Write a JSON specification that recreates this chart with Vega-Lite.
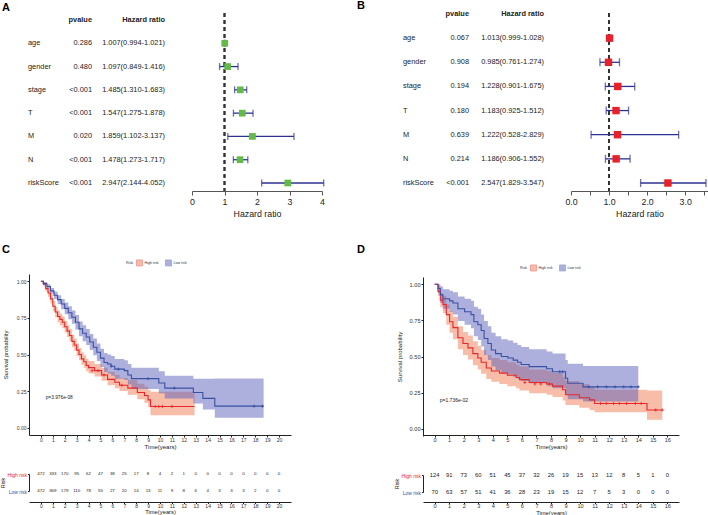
{
  "$schema": "https://vega.github.io/schema/vega-lite/v6.json",
  "background": "white",
  "padding": 0,
  "autosize": {"type": "pad"},
  "columns": 2,
  "align": "each",
  "bounds": "flush",
  "spacing": {"row": 29, "column": 101},
  "resolve": {"scale": {"fill": "independent", "color": "independent"}, "legend": {"fill": "independent", "color": "independent"}},
  "config": {
    "font": "Liberation Sans",
    "view": {"stroke": null},
    "axis": {"grid": false, "labelFlush": false, "labelOverlap": false, "labelBound": false, "titleFontWeight": "normal"},
    "title": {"fontSize": 11, "fontWeight": "bold", "color": "#000", "anchor": "start", "frame": "group"}
  },
  "datasets": {
    "forestA": [
      {"var": "age", "p": "0.286", "hr": 1.007, "lo": 0.994, "hi": 1.021, "hrtxt": "1.007(0.994-1.021)"},
      {"var": "gender", "p": "0.480", "hr": 1.097, "lo": 0.849, "hi": 1.416, "hrtxt": "1.097(0.849-1.416)"},
      {"var": "stage", "p": "<0.001", "hr": 1.485, "lo": 1.31, "hi": 1.683, "hrtxt": "1.485(1.310-1.683)"},
      {"var": "T", "p": "<0.001", "hr": 1.547, "lo": 1.275, "hi": 1.878, "hrtxt": "1.547(1.275-1.878)"},
      {"var": "M", "p": "0.020", "hr": 1.859, "lo": 1.102, "hi": 3.137, "hrtxt": "1.859(1.102-3.137)"},
      {"var": "N", "p": "<0.001", "hr": 1.478, "lo": 1.273, "hi": 1.717, "hrtxt": "1.478(1.273-1.717)"},
      {"var": "riskScore", "p": "<0.001", "hr": 2.947, "lo": 2.144, "hi": 4.052, "hrtxt": "2.947(2.144-4.052)"}
    ],
    "forestB": [
      {"var": "age", "p": "0.067", "hr": 1.013, "lo": 0.999, "hi": 1.028, "hrtxt": "1.013(0.999-1.028)"},
      {"var": "gender", "p": "0.908", "hr": 0.985, "lo": 0.761, "hi": 1.274, "hrtxt": "0.985(0.761-1.274)"},
      {"var": "stage", "p": "0.194", "hr": 1.228, "lo": 0.901, "hi": 1.675, "hrtxt": "1.228(0.901-1.675)"},
      {"var": "T", "p": "0.180", "hr": 1.183, "lo": 0.925, "hi": 1.512, "hrtxt": "1.183(0.925-1.512)"},
      {"var": "M", "p": "0.639", "hr": 1.222, "lo": 0.528, "hi": 2.829, "hrtxt": "1.222(0.528-2.829)"},
      {"var": "N", "p": "0.214", "hr": 1.186, "lo": 0.906, "hi": 1.552, "hrtxt": "1.186(0.906-1.552)"},
      {"var": "riskScore", "p": "<0.001", "hr": 2.547, "lo": 1.829, "hi": 3.547, "hrtxt": "2.547(1.829-3.547)"}
    ],
    "kmC": [
      {"g": "High risk", "t": 0, "s": 1, "lo": 1, "hi": 1},
      {"g": "High risk", "t": 0.2, "s": 0.98, "lo": 0.965, "hi": 0.995},
      {"g": "High risk", "t": 0.4, "s": 0.95, "lo": 0.93, "hi": 0.97},
      {"g": "High risk", "t": 0.6, "s": 0.92, "lo": 0.895, "hi": 0.945},
      {"g": "High risk", "t": 0.8, "s": 0.88, "lo": 0.85, "hi": 0.91},
      {"g": "High risk", "t": 1.0, "s": 0.83, "lo": 0.795, "hi": 0.865},
      {"g": "High risk", "t": 1.2, "s": 0.79, "lo": 0.755, "hi": 0.825},
      {"g": "High risk", "t": 1.4, "s": 0.76, "lo": 0.72, "hi": 0.8},
      {"g": "High risk", "t": 1.6, "s": 0.74, "lo": 0.7, "hi": 0.78},
      {"g": "High risk", "t": 1.8, "s": 0.72, "lo": 0.68, "hi": 0.76},
      {"g": "High risk", "t": 2.0, "s": 0.69, "lo": 0.65, "hi": 0.73},
      {"g": "High risk", "t": 2.2, "s": 0.66, "lo": 0.62, "hi": 0.7},
      {"g": "High risk", "t": 2.4, "s": 0.63, "lo": 0.59, "hi": 0.675},
      {"g": "High risk", "t": 2.6, "s": 0.59, "lo": 0.55, "hi": 0.635},
      {"g": "High risk", "t": 2.8, "s": 0.565, "lo": 0.525, "hi": 0.61},
      {"g": "High risk", "t": 3.0, "s": 0.53, "lo": 0.49, "hi": 0.575},
      {"g": "High risk", "t": 3.2, "s": 0.5, "lo": 0.46, "hi": 0.545},
      {"g": "High risk", "t": 3.4, "s": 0.47, "lo": 0.43, "hi": 0.515},
      {"g": "High risk", "t": 3.6, "s": 0.45, "lo": 0.41, "hi": 0.495},
      {"g": "High risk", "t": 3.8, "s": 0.425, "lo": 0.385, "hi": 0.47},
      {"g": "High risk", "t": 4.0, "s": 0.41, "lo": 0.37, "hi": 0.455},
      {"g": "High risk", "t": 4.5, "s": 0.39, "lo": 0.35, "hi": 0.435},
      {"g": "High risk", "t": 5.1, "s": 0.36, "lo": 0.32, "hi": 0.41},
      {"g": "High risk", "t": 5.6, "s": 0.33, "lo": 0.29, "hi": 0.38},
      {"g": "High risk", "t": 6.2, "s": 0.31, "lo": 0.27, "hi": 0.36},
      {"g": "High risk", "t": 6.6, "s": 0.29, "lo": 0.25, "hi": 0.34},
      {"g": "High risk", "t": 7.3, "s": 0.27, "lo": 0.225, "hi": 0.325},
      {"g": "High risk", "t": 8.1, "s": 0.24, "lo": 0.195, "hi": 0.3},
      {"g": "High risk", "t": 8.7, "s": 0.22, "lo": 0.17, "hi": 0.28},
      {"g": "High risk", "t": 9.0, "s": 0.19, "lo": 0.14, "hi": 0.26},
      {"g": "High risk", "t": 9.2, "s": 0.145, "lo": 0.085, "hi": 0.245},
      {"g": "High risk", "t": 12.9, "s": 0.145, "lo": 0.085, "hi": 0.245},
      {"g": "Low risk", "t": 0, "s": 1, "lo": 1, "hi": 1},
      {"g": "Low risk", "t": 0.2, "s": 0.985, "lo": 0.975, "hi": 0.995},
      {"g": "Low risk", "t": 0.5, "s": 0.965, "lo": 0.95, "hi": 0.98},
      {"g": "Low risk", "t": 0.8, "s": 0.935, "lo": 0.915, "hi": 0.955},
      {"g": "Low risk", "t": 1.1, "s": 0.905, "lo": 0.88, "hi": 0.93},
      {"g": "Low risk", "t": 1.4, "s": 0.875, "lo": 0.845, "hi": 0.905},
      {"g": "Low risk", "t": 1.7, "s": 0.845, "lo": 0.81, "hi": 0.88},
      {"g": "Low risk", "t": 2.0, "s": 0.815, "lo": 0.775, "hi": 0.855},
      {"g": "Low risk", "t": 2.3, "s": 0.785, "lo": 0.74, "hi": 0.83},
      {"g": "Low risk", "t": 2.6, "s": 0.755, "lo": 0.71, "hi": 0.8},
      {"g": "Low risk", "t": 2.9, "s": 0.72, "lo": 0.67, "hi": 0.77},
      {"g": "Low risk", "t": 3.2, "s": 0.675, "lo": 0.625, "hi": 0.725},
      {"g": "Low risk", "t": 3.5, "s": 0.645, "lo": 0.59, "hi": 0.7},
      {"g": "Low risk", "t": 3.8, "s": 0.62, "lo": 0.565, "hi": 0.675},
      {"g": "Low risk", "t": 4.1, "s": 0.585, "lo": 0.53, "hi": 0.64},
      {"g": "Low risk", "t": 4.4, "s": 0.55, "lo": 0.495, "hi": 0.61},
      {"g": "Low risk", "t": 4.7, "s": 0.515, "lo": 0.455, "hi": 0.575},
      {"g": "Low risk", "t": 5.0, "s": 0.475, "lo": 0.415, "hi": 0.54},
      {"g": "Low risk", "t": 5.3, "s": 0.445, "lo": 0.38, "hi": 0.51},
      {"g": "Low risk", "t": 5.6, "s": 0.435, "lo": 0.37, "hi": 0.5},
      {"g": "Low risk", "t": 5.9, "s": 0.42, "lo": 0.355, "hi": 0.49},
      {"g": "Low risk", "t": 6.2, "s": 0.4, "lo": 0.335, "hi": 0.47},
      {"g": "Low risk", "t": 7.0, "s": 0.39, "lo": 0.325, "hi": 0.46},
      {"g": "Low risk", "t": 7.3, "s": 0.36, "lo": 0.295, "hi": 0.435},
      {"g": "Low risk", "t": 7.6, "s": 0.335, "lo": 0.265, "hi": 0.41},
      {"g": "Low risk", "t": 9.9, "s": 0.305, "lo": 0.235, "hi": 0.385},
      {"g": "Low risk", "t": 10.4, "s": 0.27, "lo": 0.2, "hi": 0.355},
      {"g": "Low risk", "t": 12.8, "s": 0.24, "lo": 0.165, "hi": 0.335},
      {"g": "Low risk", "t": 13.6, "s": 0.2, "lo": 0.125, "hi": 0.335},
      {"g": "Low risk", "t": 14.6, "s": 0.147, "lo": 0.068, "hi": 0.336},
      {"g": "Low risk", "t": 18.7, "s": 0.147, "lo": 0.068, "hi": 0.336}
    ],
    "kmD": [
      {"g": "High risk", "t": 0, "s": 1, "lo": 1, "hi": 1},
      {"g": "High risk", "t": 0.23, "s": 0.95, "lo": 0.92, "hi": 0.99},
      {"g": "High risk", "t": 0.39, "s": 0.89, "lo": 0.84, "hi": 0.94},
      {"g": "High risk", "t": 0.57, "s": 0.86, "lo": 0.8, "hi": 0.92},
      {"g": "High risk", "t": 0.8, "s": 0.79, "lo": 0.72, "hi": 0.86},
      {"g": "High risk", "t": 1.03, "s": 0.74, "lo": 0.665, "hi": 0.815},
      {"g": "High risk", "t": 1.26, "s": 0.7, "lo": 0.62, "hi": 0.775},
      {"g": "High risk", "t": 1.6, "s": 0.63, "lo": 0.55, "hi": 0.71},
      {"g": "High risk", "t": 1.95, "s": 0.59, "lo": 0.51, "hi": 0.67},
      {"g": "High risk", "t": 2.29, "s": 0.56, "lo": 0.48, "hi": 0.645},
      {"g": "High risk", "t": 2.63, "s": 0.52, "lo": 0.44, "hi": 0.605},
      {"g": "High risk", "t": 2.97, "s": 0.49, "lo": 0.41, "hi": 0.575},
      {"g": "High risk", "t": 3.2, "s": 0.46, "lo": 0.38, "hi": 0.545},
      {"g": "High risk", "t": 3.55, "s": 0.42, "lo": 0.345, "hi": 0.51},
      {"g": "High risk", "t": 3.9, "s": 0.4, "lo": 0.325, "hi": 0.49},
      {"g": "High risk", "t": 4.46, "s": 0.385, "lo": 0.31, "hi": 0.475},
      {"g": "High risk", "t": 5.0, "s": 0.37, "lo": 0.295, "hi": 0.46},
      {"g": "High risk", "t": 5.6, "s": 0.355, "lo": 0.28, "hi": 0.445},
      {"g": "High risk", "t": 5.84, "s": 0.34, "lo": 0.265, "hi": 0.43},
      {"g": "High risk", "t": 6.5, "s": 0.32, "lo": 0.245, "hi": 0.41},
      {"g": "High risk", "t": 7.7, "s": 0.31, "lo": 0.235, "hi": 0.4},
      {"g": "High risk", "t": 8.1, "s": 0.295, "lo": 0.22, "hi": 0.385},
      {"g": "High risk", "t": 8.8, "s": 0.27, "lo": 0.195, "hi": 0.36},
      {"g": "High risk", "t": 9.0, "s": 0.235, "lo": 0.165, "hi": 0.33},
      {"g": "High risk", "t": 9.95, "s": 0.215, "lo": 0.145, "hi": 0.31},
      {"g": "High risk", "t": 10.65, "s": 0.2, "lo": 0.13, "hi": 0.29},
      {"g": "High risk", "t": 11.0, "s": 0.175, "lo": 0.115, "hi": 0.27},
      {"g": "High risk", "t": 14.6, "s": 0.13, "lo": 0.063, "hi": 0.265},
      {"g": "High risk", "t": 15.65, "s": 0.13, "lo": 0.063, "hi": 0.265},
      {"g": "Low risk", "t": 0, "s": 1, "lo": 1, "hi": 1},
      {"g": "Low risk", "t": 0.23, "s": 0.97, "lo": 0.94, "hi": 1.0},
      {"g": "Low risk", "t": 0.39, "s": 0.926, "lo": 0.87, "hi": 0.985},
      {"g": "Low risk", "t": 0.57, "s": 0.9, "lo": 0.83, "hi": 0.965},
      {"g": "Low risk", "t": 1.03, "s": 0.885, "lo": 0.81, "hi": 0.955},
      {"g": "Low risk", "t": 1.26, "s": 0.87, "lo": 0.79, "hi": 0.945},
      {"g": "Low risk", "t": 1.6, "s": 0.83, "lo": 0.745, "hi": 0.915},
      {"g": "Low risk", "t": 2.06, "s": 0.81, "lo": 0.72, "hi": 0.9},
      {"g": "Low risk", "t": 2.5, "s": 0.79, "lo": 0.695, "hi": 0.885},
      {"g": "Low risk", "t": 2.7, "s": 0.74, "lo": 0.64, "hi": 0.845},
      {"g": "Low risk", "t": 2.97, "s": 0.72, "lo": 0.615, "hi": 0.83},
      {"g": "Low risk", "t": 3.2, "s": 0.68, "lo": 0.57, "hi": 0.79},
      {"g": "Low risk", "t": 3.4, "s": 0.625, "lo": 0.51, "hi": 0.745},
      {"g": "Low risk", "t": 3.66, "s": 0.59, "lo": 0.475, "hi": 0.71},
      {"g": "Low risk", "t": 3.9, "s": 0.545, "lo": 0.43, "hi": 0.665},
      {"g": "Low risk", "t": 4.19, "s": 0.52, "lo": 0.405, "hi": 0.64},
      {"g": "Low risk", "t": 4.58, "s": 0.5, "lo": 0.385, "hi": 0.62},
      {"g": "Low risk", "t": 5.03, "s": 0.49, "lo": 0.375, "hi": 0.61},
      {"g": "Low risk", "t": 5.4, "s": 0.475, "lo": 0.36, "hi": 0.595},
      {"g": "Low risk", "t": 5.7, "s": 0.46, "lo": 0.345, "hi": 0.58},
      {"g": "Low risk", "t": 5.95, "s": 0.445, "lo": 0.33, "hi": 0.565},
      {"g": "Low risk", "t": 6.5, "s": 0.43, "lo": 0.315, "hi": 0.55},
      {"g": "Low risk", "t": 7.7, "s": 0.415, "lo": 0.3, "hi": 0.535},
      {"g": "Low risk", "t": 8.1, "s": 0.395, "lo": 0.28, "hi": 0.52},
      {"g": "Low risk", "t": 9.0, "s": 0.35, "lo": 0.235, "hi": 0.475},
      {"g": "Low risk", "t": 9.15, "s": 0.315, "lo": 0.205, "hi": 0.45},
      {"g": "Low risk", "t": 10.2, "s": 0.29, "lo": 0.188, "hi": 0.435},
      {"g": "Low risk", "t": 14.0, "s": 0.29, "lo": 0.188, "hi": 0.435}
    ],
    "censC": [
      {"g": "High risk", "t": 4.3, "s": 0.39}, {"g": "High risk", "t": 4.8, "s": 0.39}, {"g": "High risk", "t": 5.3, "s": 0.36},
      {"g": "High risk", "t": 6.8, "s": 0.29}, {"g": "High risk", "t": 9.6, "s": 0.145}, {"g": "High risk", "t": 9.9, "s": 0.145},
      {"g": "High risk", "t": 10.2, "s": 0.145}, {"g": "High risk", "t": 11.0, "s": 0.145},
      {"g": "Low risk", "t": 5.9, "s": 0.42}, {"g": "Low risk", "t": 6.5, "s": 0.4}, {"g": "Low risk", "t": 9.0, "s": 0.335},
      {"g": "Low risk", "t": 11.2, "s": 0.27}, {"g": "Low risk", "t": 17.9, "s": 0.147}, {"g": "Low risk", "t": 18.6, "s": 0.147}
    ],
    "censD": [
      {"g": "High risk", "t": 6.2, "s": 0.32}, {"g": "High risk", "t": 6.9, "s": 0.31}, {"g": "High risk", "t": 7.3, "s": 0.31},
      {"g": "High risk", "t": 7.9, "s": 0.31}, {"g": "High risk", "t": 11.4, "s": 0.175}, {"g": "High risk", "t": 11.8, "s": 0.175},
      {"g": "High risk", "t": 12.3, "s": 0.175}, {"g": "High risk", "t": 12.7, "s": 0.175}, {"g": "High risk", "t": 13.2, "s": 0.175},
      {"g": "High risk", "t": 13.8, "s": 0.175}, {"g": "High risk", "t": 14.2, "s": 0.175}, {"g": "High risk", "t": 15.2, "s": 0.13},
      {"g": "High risk", "t": 15.65, "s": 0.13},
      {"g": "Low risk", "t": 8.6, "s": 0.395}, {"g": "Low risk", "t": 8.8, "s": 0.395}, {"g": "Low risk", "t": 10.6, "s": 0.29},
      {"g": "Low risk", "t": 11.2, "s": 0.29}, {"g": "Low risk", "t": 11.8, "s": 0.29}, {"g": "Low risk", "t": 12.4, "s": 0.29},
      {"g": "Low risk", "t": 13.0, "s": 0.29}, {"g": "Low risk", "t": 13.5, "s": 0.29}, {"g": "Low risk", "t": 14.0, "s": 0.29}
    ],
    "riskC": [
      {"g": "High risk", "t": 0, "n": 472}, {"g": "High risk", "t": 1, "n": 333}, {"g": "High risk", "t": 2, "n": 170},
      {"g": "High risk", "t": 3, "n": 95}, {"g": "High risk", "t": 4, "n": 62}, {"g": "High risk", "t": 5, "n": 47},
      {"g": "High risk", "t": 6, "n": 38}, {"g": "High risk", "t": 7, "n": 25}, {"g": "High risk", "t": 8, "n": 17},
      {"g": "High risk", "t": 9, "n": 8}, {"g": "High risk", "t": 10, "n": 4}, {"g": "High risk", "t": 11, "n": 2},
      {"g": "High risk", "t": 12, "n": 1}, {"g": "High risk", "t": 13, "n": 0}, {"g": "High risk", "t": 14, "n": 0},
      {"g": "High risk", "t": 15, "n": 0}, {"g": "High risk", "t": 16, "n": 0}, {"g": "High risk", "t": 17, "n": 0},
      {"g": "High risk", "t": 18, "n": 0}, {"g": "High risk", "t": 19, "n": 0}, {"g": "High risk", "t": 20, "n": 0},
      {"g": "Low risk", "t": 0, "n": 472}, {"g": "Low risk", "t": 1, "n": 369}, {"g": "Low risk", "t": 2, "n": 179},
      {"g": "Low risk", "t": 3, "n": 110}, {"g": "Low risk", "t": 4, "n": 78}, {"g": "Low risk", "t": 5, "n": 55},
      {"g": "Low risk", "t": 6, "n": 27}, {"g": "Low risk", "t": 7, "n": 20}, {"g": "Low risk", "t": 8, "n": 14},
      {"g": "Low risk", "t": 9, "n": 13}, {"g": "Low risk", "t": 10, "n": 11}, {"g": "Low risk", "t": 11, "n": 9},
      {"g": "Low risk", "t": 12, "n": 8}, {"g": "Low risk", "t": 13, "n": 6}, {"g": "Low risk", "t": 14, "n": 4},
      {"g": "Low risk", "t": 15, "n": 3}, {"g": "Low risk", "t": 16, "n": 3}, {"g": "Low risk", "t": 17, "n": 3},
      {"g": "Low risk", "t": 18, "n": 2}, {"g": "Low risk", "t": 19, "n": 0}, {"g": "Low risk", "t": 20, "n": 0}
    ],
    "riskD": [
      {"g": "High risk", "t": 0, "n": 124}, {"g": "High risk", "t": 1, "n": 91}, {"g": "High risk", "t": 2, "n": 73},
      {"g": "High risk", "t": 3, "n": 60}, {"g": "High risk", "t": 4, "n": 51}, {"g": "High risk", "t": 5, "n": 45},
      {"g": "High risk", "t": 6, "n": 37}, {"g": "High risk", "t": 7, "n": 32}, {"g": "High risk", "t": 8, "n": 26},
      {"g": "High risk", "t": 9, "n": 19}, {"g": "High risk", "t": 10, "n": 15}, {"g": "High risk", "t": 11, "n": 13},
      {"g": "High risk", "t": 12, "n": 12}, {"g": "High risk", "t": 13, "n": 8}, {"g": "High risk", "t": 14, "n": 5},
      {"g": "High risk", "t": 15, "n": 1}, {"g": "High risk", "t": 16, "n": 0},
      {"g": "Low risk", "t": 0, "n": 70}, {"g": "Low risk", "t": 1, "n": 63}, {"g": "Low risk", "t": 2, "n": 57},
      {"g": "Low risk", "t": 3, "n": 51}, {"g": "Low risk", "t": 4, "n": 41}, {"g": "Low risk", "t": 5, "n": 36},
      {"g": "Low risk", "t": 6, "n": 28}, {"g": "Low risk", "t": 7, "n": 23}, {"g": "Low risk", "t": 8, "n": 19},
      {"g": "Low risk", "t": 9, "n": 15}, {"g": "Low risk", "t": 10, "n": 12}, {"g": "Low risk", "t": 11, "n": 7},
      {"g": "Low risk", "t": 12, "n": 5}, {"g": "Low risk", "t": 13, "n": 3}, {"g": "Low risk", "t": 14, "n": 0},
      {"g": "Low risk", "t": 15, "n": 0}, {"g": "Low risk", "t": 16, "n": 0}
    ]
  },
  "concat": [
    {
      "width": 293, "height": 178,
      "title": {"text": "A", "dx": -27, "offset": -1},
      "layer": [
        {
          "data": {"name": "forestA"},
          "layer": [
            {"mark": {"type": "text", "align": "left", "baseline": "middle", "fontSize": 7.4, "color": "#222"},
             "encoding": {
               "x": {"datum": "label", "type": "nominal", "scale": {"type": "point", "domain": ["label", "p", "hr"], "range": [-1, 136], "padding": 0}, "axis": null},
               "y": {"field": "var", "type": "nominal", "scale": {"type": "point", "domain": ["hdr", "age", "gender", "stage", "T", "M", "N", "riskScore"], "range": [7, 170], "padding": 0}, "axis": null},
               "text": {"field": "var"}}},
            {"mark": {"type": "text", "align": "right", "baseline": "middle", "fontSize": 7.4, "color": "#222", "dx": -4.5},
             "encoding": {
               "x": {"datum": "p", "type": "nominal", "axis": null},
               "y": {"field": "var", "type": "nominal", "axis": null},
               "text": {"field": "p"}}},
            {"mark": {"type": "text", "align": "right", "baseline": "middle", "fontSize": 7.4, "color": "#222"},
             "encoding": {
               "x": {"datum": "hr", "type": "nominal", "axis": null},
               "y": {"field": "var", "type": "nominal", "axis": null},
               "text": {"field": "hrtxt"}}},
            {"data": {"values": [{"col": "p", "h": "pvalue"}, {"col": "hr", "h": "Hazard ratio"}]},
             "mark": {"type": "text", "align": "right", "baseline": "middle", "fontSize": 7.4, "fontWeight": "bold", "color": "#222", "dx": {"expr": "datum.col === 'p' ? -4.5 : 0"}},
             "encoding": {
               "x": {"field": "col", "type": "nominal", "axis": null},
               "y": {"datum": "hdr", "type": "nominal", "axis": null},
               "text": {"field": "h"}}}
          ]
        },
        {
          "data": {"name": "forestA"},
          "layer": [
            {"mark": {"type": "rule", "strokeDash": [4, 3], "color": "#333", "strokeWidth": 1.3},
             "encoding": {"x": {"datum": 1, "type": "quantitative", "scale": {"domain": [0, 4], "range": [163, 293], "nice": false, "zero": false},
               "axis": {"values": [0, 1, 2, 3, 4], "format": "d", "title": "Hazard ratio", "labelFontSize": 8.8, "titleFontSize": 8.8, "tickSize": 4, "labelPadding": 2, "titlePadding": 4, "domainColor": "#555", "tickColor": "#555", "labelColor": "#222", "titleColor": "#222"}}}},
            {"mark": {"type": "rule", "color": "#2e3192", "strokeWidth": 1.3},
             "encoding": {"x": {"field": "lo", "type": "quantitative", "title": "Hazard ratio"}, "x2": {"field": "hi"}, "y": {"field": "var", "type": "nominal", "axis": null}}},
            {"mark": {"type": "tick", "orient": "vertical", "size": 7, "thickness": 1.3, "color": "#2e3192"},
             "encoding": {"x": {"field": "lo", "type": "quantitative", "title": "Hazard ratio"}, "y": {"field": "var", "type": "nominal", "axis": null}}},
            {"mark": {"type": "tick", "orient": "vertical", "size": 7, "thickness": 1.3, "color": "#2e3192"},
             "encoding": {"x": {"field": "hi", "type": "quantitative", "title": "Hazard ratio"}, "y": {"field": "var", "type": "nominal", "axis": null}}},
            {"mark": {"type": "point", "shape": "square", "filled": true, "size": 45, "color": "#62bb46", "opacity": 1},
             "encoding": {"x": {"field": "hr", "type": "quantitative", "title": "Hazard ratio"}, "y": {"field": "var", "type": "nominal", "axis": null}}}
          ]
        }
      ],
      "resolve": {"scale": {"x": "independent"}}
    },
    {
      "width": 285, "height": 178,
      "title": {"text": "B", "dx": -66, "offset": -1},
      "layer": [
        {
          "data": {"name": "forestB"},
          "layer": [
            {"mark": {"type": "text", "align": "left", "baseline": "middle", "fontSize": 7.4, "color": "#222"},
             "encoding": {
               "x": {"datum": "label", "type": "nominal", "scale": {"type": "point", "domain": ["label", "p", "hr"], "range": [-20, 121], "padding": 0}, "axis": null},
               "y": {"field": "var", "type": "nominal", "scale": {"type": "point", "domain": ["hdr", "age", "gender", "stage", "T", "M", "N", "riskScore"], "range": [1, 170], "padding": 0}, "axis": null},
               "text": {"field": "var"}}},
            {"mark": {"type": "text", "align": "right", "baseline": "middle", "fontSize": 7.4, "color": "#222", "dx": -4.5},
             "encoding": {
               "x": {"datum": "p", "type": "nominal", "axis": null},
               "y": {"field": "var", "type": "nominal", "axis": null},
               "text": {"field": "p"}}},
            {"mark": {"type": "text", "align": "right", "baseline": "middle", "fontSize": 7.4, "color": "#222"},
             "encoding": {
               "x": {"datum": "hr", "type": "nominal", "axis": null},
               "y": {"field": "var", "type": "nominal", "axis": null},
               "text": {"field": "hrtxt"}}},
            {"data": {"values": [{"col": "p", "h": "pvalue"}, {"col": "hr", "h": "Hazard ratio"}]},
             "mark": {"type": "text", "align": "right", "baseline": "middle", "fontSize": 7.4, "fontWeight": "bold", "color": "#222", "dx": {"expr": "datum.col === 'p' ? -4.5 : 0"}},
             "encoding": {
               "x": {"field": "col", "type": "nominal", "axis": null},
               "y": {"datum": "hdr", "type": "nominal", "axis": null},
               "text": {"field": "h"}}}
          ]
        },
        {
          "data": {"name": "forestB"},
          "layer": [
            {"mark": {"type": "rule", "strokeDash": [4, 3], "color": "#333", "strokeWidth": 1.3},
             "encoding": {"x": {"datum": 1, "type": "quantitative", "scale": {"domain": [0, 3.6], "range": [148, 285], "nice": false, "zero": false},
               "axis": {"values": [0, 0.5, 1, 1.5, 2, 2.5, 3, 3.5], "labelExpr": "datum.value % 1 === 0 ? format(datum.value, '.1f') : ''", "title": "Hazard ratio", "labelFontSize": 8.8, "titleFontSize": 8.8, "tickSize": 4, "labelPadding": 2, "titlePadding": 4, "domainColor": "#555", "tickColor": "#555", "labelColor": "#222", "titleColor": "#222"}}}},
            {"mark": {"type": "rule", "color": "#2e3192", "strokeWidth": 1.3},
             "encoding": {"x": {"field": "lo", "type": "quantitative", "title": "Hazard ratio"}, "x2": {"field": "hi"}, "y": {"field": "var", "type": "nominal", "axis": null}}},
            {"mark": {"type": "tick", "orient": "vertical", "size": 8, "thickness": 1.3, "color": "#2e3192"},
             "encoding": {"x": {"field": "lo", "type": "quantitative", "title": "Hazard ratio"}, "y": {"field": "var", "type": "nominal", "axis": null}}},
            {"mark": {"type": "tick", "orient": "vertical", "size": 8, "thickness": 1.3, "color": "#2e3192"},
             "encoding": {"x": {"field": "hi", "type": "quantitative", "title": "Hazard ratio"}, "y": {"field": "var", "type": "nominal", "axis": null}}},
            {"mark": {"type": "point", "shape": "square", "filled": true, "size": 55, "color": "#e8202a", "opacity": 1},
             "encoding": {"x": {"field": "hr", "type": "quantitative", "title": "Hazard ratio"}, "y": {"field": "var", "type": "nominal", "axis": null}}}
          ]
        }
      ],
      "resolve": {"scale": {"x": "independent"}}
    },
    {
      "width": 262, "height": 215,
      "title": {"text": "C", "dx": -27, "offset": -35},
      "encoding": {
        "x": {"field": "t", "type": "quantitative", "scale": {"domain": [-1, 21], "nice": false, "zero": false},
          "axis": {"values": [0,1,2,3,4,5,6,7,8,9,10,11,12,13,14,15,16,17,18,19,20], "tickCount": 21, "labelOverlap": false, "title": "Time(years)", "labelFontSize": 5, "titleFontSize": 6, "tickSize": 2, "labelPadding": 0, "titlePadding": 1, "domainColor": "#222", "tickColor": "#222", "labelColor": "#333", "titleColor": "#222"}},
        "y": {"field": "s", "type": "quantitative", "scale": {"domain": [-0.05, 1.05], "range": [215, 54], "nice": false, "zero": false},
          "axis": {"values": [0, 0.25, 0.5, 0.75, 1], "format": ".2f", "labelOverlap": false, "title": "Survival probability", "labelFontSize": 5, "titleFontSize": 5.8, "tickSize": 2, "labelPadding": 1, "titlePadding": 8, "domainColor": "#222", "tickColor": "#222", "labelColor": "#333", "titleColor": "#222"}}
      },
      "layer": [
        {"data": {"name": "kmC"},
         "mark": {"type": "area", "interpolate": "step-after", "opacity": 0.5},
         "encoding": {
           "y": {"field": "lo", "type": "quantitative"},
           "y2": {"field": "hi"},
           "fill": {"field": "g", "type": "nominal", "scale": {"domain": ["High risk", "Low risk"], "range": ["#ef7b52", "#5b60bb"]},
             "legend": {"orient": "none", "legendX": 97, "legendY": 39, "direction": "horizontal", "title": "Risk", "titleOrient": "left", "titleFontSize": 3.6, "labelFontSize": 3.6, "titleFontWeight": "normal", "titleColor": "#333", "labelColor": "#333", "symbolType": "square", "symbolSize": 36, "symbolStrokeWidth": 0.8, "symbolOpacity": 0.5, "columnPadding": 4, "labelOffset": 1.5, "titlePadding": 3,
               "encode": {"symbols": {"update": {"stroke": {"signal": "datum.value === 'High risk' ? '#e8262b' : '#3a51a3'"}}}}}}}},
        {"data": {"name": "kmC"},
         "mark": {"type": "line", "interpolate": "step-after", "strokeWidth": 1.1},
         "encoding": {
           "color": {"field": "g", "type": "nominal", "scale": {"domain": ["High risk", "Low risk"], "range": ["#e8262b", "#3a51a3"]}, "legend": null}}},
        {"data": {"name": "censC"},
         "mark": {"type": "point", "shape": "M-1,0H1M0,-1V1", "filled": false, "size": 10, "strokeWidth": 0.8, "opacity": 1},
         "encoding": {
           "color": {"field": "g", "type": "nominal", "scale": {"domain": ["High risk", "Low risk"], "range": ["#e8262b", "#3a51a3"]}, "legend": null}}},
        {"data": {"values": [{"t": 0.4, "s": 0.2, "label": "p=3.976e-08"}]},
         "mark": {"type": "text", "align": "left", "baseline": "middle", "fontSize": 4.8, "color": "#222"},
         "encoding": {"text": {"field": "label"}}}
      ]
    },
    {
      "width": 256, "height": 215,
      "title": {"text": "D", "dx": -66, "offset": -35},
      "encoding": {
        "x": {"field": "t", "type": "quantitative", "scale": {"domain": [-0.8, 16.8], "nice": false, "zero": false},
          "axis": {"values": [0,1,2,3,4,5,6,7,8,9,10,11,12,13,14,15,16], "tickCount": 17, "labelOverlap": false, "title": "Time(years)", "labelFontSize": 5.6, "titleFontSize": 6, "tickSize": 2, "labelPadding": 0, "titlePadding": 1, "domainColor": "#222", "tickColor": "#222", "labelColor": "#333", "titleColor": "#222"}},
        "y": {"field": "s", "type": "quantitative", "scale": {"domain": [-0.05, 1.05], "range": [216, 57], "nice": false, "zero": false},
          "axis": {"values": [0, 0.25, 0.5, 0.75, 1], "format": ".2f", "labelOverlap": false, "title": "Survival probability", "labelFontSize": 5.6, "titleFontSize": 6, "tickSize": 2, "labelPadding": 1, "titlePadding": 7, "domainColor": "#222", "tickColor": "#222", "labelColor": "#333", "titleColor": "#222"}}
      },
      "layer": [
        {"data": {"name": "kmD"},
         "mark": {"type": "area", "interpolate": "step-after", "opacity": 0.5},
         "encoding": {
           "y": {"field": "lo", "type": "quantitative"},
           "y2": {"field": "hi"},
           "fill": {"field": "g", "type": "nominal", "scale": {"domain": ["High risk", "Low risk"], "range": ["#ef7b52", "#5b60bb"]},
             "legend": {"orient": "none", "legendX": 97, "legendY": 44, "direction": "horizontal", "title": "Risk", "titleOrient": "left", "titleFontSize": 3.6, "labelFontSize": 3.6, "titleFontWeight": "normal", "titleColor": "#333", "labelColor": "#333", "symbolType": "square", "symbolSize": 36, "symbolStrokeWidth": 0.8, "symbolOpacity": 0.5, "columnPadding": 4, "labelOffset": 1.5, "titlePadding": 3,
               "encode": {"symbols": {"update": {"stroke": {"signal": "datum.value === 'High risk' ? '#e8262b' : '#3a51a3'"}}}}}}}},
        {"data": {"name": "kmD"},
         "mark": {"type": "line", "interpolate": "step-after", "strokeWidth": 1.1},
         "encoding": {
           "color": {"field": "g", "type": "nominal", "scale": {"domain": ["High risk", "Low risk"], "range": ["#e8262b", "#3a51a3"]}, "legend": null}}},
        {"data": {"name": "censD"},
         "mark": {"type": "point", "shape": "M-1,0H1M0,-1V1", "filled": false, "size": 10, "strokeWidth": 0.8, "opacity": 1},
         "encoding": {
           "color": {"field": "g", "type": "nominal", "scale": {"domain": ["High risk", "Low risk"], "range": ["#e8262b", "#3a51a3"]}, "legend": null}}},
        {"data": {"values": [{"t": 0.35, "s": 0.2, "label": "p=1.736e-02"}]},
         "mark": {"type": "text", "align": "left", "baseline": "middle", "fontSize": 5, "color": "#222"},
         "encoding": {"text": {"field": "label"}}}
      ]
    },
    {
      "width": 262, "height": 38,
      "data": {"name": "riskC"},
      "mark": {"type": "text", "fontSize": 4.4, "color": "#222", "baseline": "middle"},
      "encoding": {
        "x": {"field": "t", "type": "quantitative", "scale": {"domain": [-1, 21], "nice": false, "zero": false},
          "axis": {"values": [0,1,2,3,4,5,6,7,8,9,10,11,12,13,14,15,16,17,18,19,20], "title": "Time(years)", "labelFontSize": 5, "titleFontSize": 5.8, "tickSize": 1.5, "labelPadding": 0, "titlePadding": 0, "domainColor": "#222", "tickColor": "#222", "labelColor": "#333", "titleColor": "#222"}},
        "y": {"field": "g", "type": "nominal", "scale": {"type": "point", "domain": ["High risk", "Low risk"], "range": [10, 27], "padding": 0},
          "axis": {"title": "Risk", "labelFontSize": 5, "titleFontSize": 5.5, "tickSize": 1.5, "labelPadding": 1, "titlePadding": 2, "domainColor": "#222", "tickColor": "#222", "titleColor": "#222",
            "labelColor": {"condition": {"test": "datum.value === 'High risk'", "value": "#e8262b"}, "value": "#3a51a3"}}},
        "text": {"field": "n", "type": "quantitative"}
      }
    },
    {
      "width": 256, "height": 38,
      "data": {"name": "riskD"},
      "mark": {"type": "text", "fontSize": 5.8, "color": "#222", "baseline": "middle"},
      "encoding": {
        "x": {"field": "t", "type": "quantitative", "scale": {"domain": [-0.8, 16.8], "nice": false, "zero": false},
          "axis": {"values": [0,1,2,3,4,5,6,7,8,9,10,11,12,13,14,15,16], "title": "Time(years)", "labelFontSize": 5.6, "titleFontSize": 5.8, "tickSize": 1.5, "labelPadding": 0, "titlePadding": 0, "domainColor": "#222", "tickColor": "#222", "labelColor": "#333", "titleColor": "#222"}},
        "y": {"field": "g", "type": "nominal", "scale": {"type": "point", "domain": ["High risk", "Low risk"], "range": [11, 28], "padding": 0},
          "axis": {"title": "Risk", "labelFontSize": 5, "titleFontSize": 5.5, "tickSize": 1.5, "labelPadding": 1, "titlePadding": 2, "domainColor": "#222", "tickColor": "#222", "titleColor": "#222",
            "labelColor": {"condition": {"test": "datum.value === 'High risk'", "value": "#e8262b"}, "value": "#3a51a3"}}},
        "text": {"field": "n", "type": "quantitative"}
      }
    }
  ]
}
